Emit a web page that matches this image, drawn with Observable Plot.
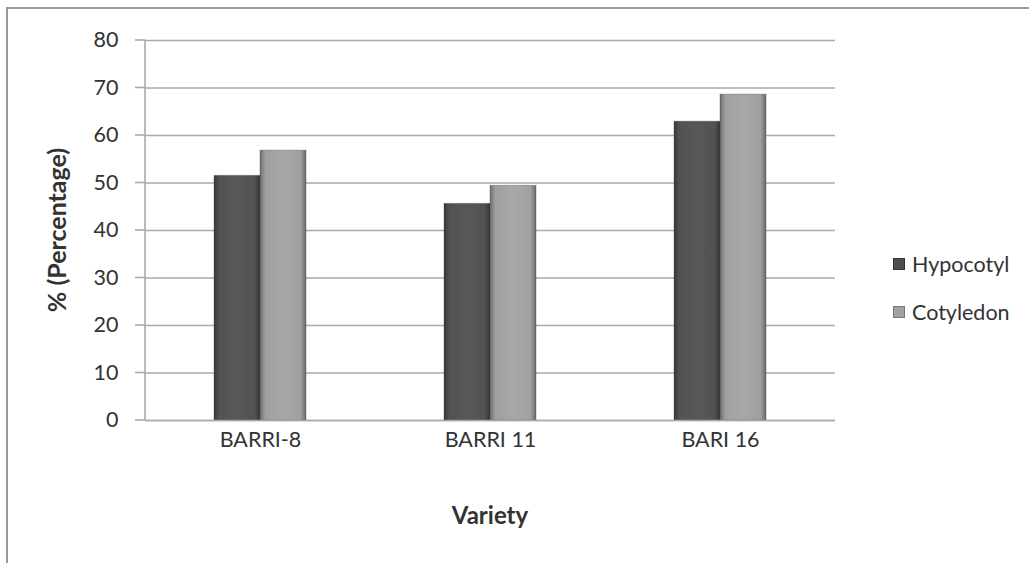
<!DOCTYPE html>
<html>
<head>
<meta charset="utf-8">
<script src="https://cdn.jsdelivr.net/npm/d3@7"></script>
<script src="https://cdn.jsdelivr.net/npm/@observablehq/plot@0.6"></script>
<style>
  html, body { margin: 0; padding: 0; background: #fff; }
  #wrap { position: relative; width: 1029px; height: 563px; overflow: hidden; font-family: Lato, "Open Sans", sans-serif; }
  #frame { position: absolute; left: 6px; top: 7px; width: 1040px; height: 600px; border-left: 2px solid #9a9a9a; border-top: 2px solid #9a9a9a; box-sizing: border-box; }
  #chart { position: absolute; left: 0; top: 0; }
  .legend { position: absolute; left: 893px; font-size: 21.5px; color: #333; }
  .legend div { height: 48px; display: flex; align-items: center; }
  .legend span.sw { display: inline-block; width: 12px; height: 12px; margin-right: 7px; box-sizing: border-box; }
</style>
</head>
<body>
<div id="wrap">
  <div id="frame"></div>
  <div id="chart"></div>
  <div class="legend" id="legend" style="top:240px"></div>
</div>
<script>
// Regeneration percentage by variety and explant type
const varieties = ["BARRI-8", "BARRI 11", "BARI 16"];
const explants = ["Hypocotyl", "Cotyledon"];
const hypocotyl = [51.5, 45.6, 62.9];
const cotyledon = [56.8, 49.4, 68.6];
const yTicks = [0, 10, 20, 30, 40, 50, 60, 70, 80];

const swatch = ["#4e4e4e", "#a2a2a2"];
const gradIds = ["gradHypo", "gradCoty"];

const data = varieties.flatMap((v, i) => [
  {variety: v, explant: explants[0], value: hypocotyl[i]},
  {variety: v, explant: explants[1], value: cotyledon[i]}
]);

const chart = Plot.plot({
  width: 1029,
  height: 563,
  marginLeft: 145,
  marginRight: 194,
  marginTop: 40,
  marginBottom: 143,
  style: {fontFamily: "Lato, 'Open Sans', sans-serif", fontSize: "21.5px", color: "#333", background: "transparent"},
  fx: {domain: varieties, padding: 0, label: null},
  x: {domain: explants, paddingInner: 0, paddingOuter: 1.5, axis: null},
  y: {domain: [0, 80], label: null},
  color: {domain: explants, range: gradIds.map(id => `url(#${id})`)},
  marks: [
    Plot.axisY({ticks: yTicks, tickSize: 0, tickPadding: 27, label: null}),
    Plot.gridY({ticks: yTicks, stroke: "#aaaaaa", strokeOpacity: 1, strokeWidth: 1.6}),
    Plot.axisFx({anchor: "bottom", tickSize: 0, tickPadding: 11, label: null}),
    Plot.barY(data, {fx: "variety", x: "explant", y: "value", fill: "explant", stroke: "#3a3a3a", strokeOpacity: 0.35, strokeWidth: 1}),
    Plot.ruleY([0], {stroke: "#aaaaaa", strokeWidth: 1.6})
  ]
});

// bevel-like horizontal gradients for the bars
const svg = d3.select(chart);
const defs = svg.insert("defs", ":first-child");
const stops = [
  [["0%", "#393939"], ["12%", "#525252"], ["50%", "#585858"], ["88%", "#525252"], ["100%", "#363636"]],
  [["0%", "#6e6e6e"], ["12%", "#a0a0a0"], ["50%", "#a8a8a8"], ["88%", "#a0a0a0"], ["100%", "#6a6a6a"]]
];
gradIds.forEach((id, k) => {
  const g = defs.append("linearGradient").attr("id", id).attr("x1", "0").attr("x2", "1").attr("y1", "0").attr("y2", "0");
  stops[k].forEach(([o, c]) => g.append("stop").attr("offset", o).attr("stop-color", c));
});

document.getElementById("chart").appendChild(chart);

// y axis line, short tick stubs and axis titles
const y = chart.scale("y");
const extra = svg.append("g");
extra.append("line").attr("x1", 145).attr("x2", 145).attr("y1", y.apply(80)).attr("y2", y.apply(0)).attr("stroke", "#aaaaaa").attr("stroke-width", 1.6);
yTicks.forEach(t => {
  extra.append("line").attr("x1", 135).attr("x2", 145).attr("y1", y.apply(t)).attr("y2", y.apply(t)).attr("stroke", "#aaaaaa").attr("stroke-width", 1.6);
});
extra.append("text").text("% (Percentage)")
  .attr("transform", `translate(60,${(y.apply(0) + y.apply(80)) / 2}) rotate(-90)`)
  .attr("text-anchor", "middle").attr("dominant-baseline", "middle")
  .attr("font-weight", "bold").attr("font-size", 25).attr("fill", "#333");
extra.append("text").text("Variety")
  .attr("x", (145 + 835) / 2).attr("y", 518)
  .attr("text-anchor", "middle").attr("dominant-baseline", "middle")
  .attr("font-weight", "bold").attr("font-size", 24).attr("fill", "#333");

// legend
const legend = document.getElementById("legend");
explants.forEach((name, k) => {
  const row = document.createElement("div");
  const sw = document.createElement("span");
  sw.className = "sw";
  sw.style.background = swatch[k];
  sw.style.border = "1px solid " + (k === 0 ? "#333" : "#777");
  row.appendChild(sw);
  row.appendChild(document.createTextNode(name));
  legend.appendChild(row);
});
</script>
</body>
</html>
